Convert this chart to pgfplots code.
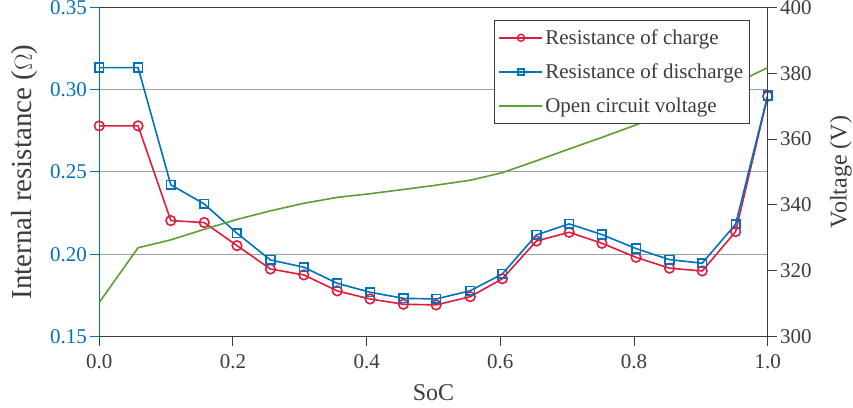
\documentclass[border=0pt]{standalone}
\usepackage{fontspec}
\setmainfont{Liberation Serif}
\usepackage{pgfplots}
\usepackage{pgfplotstable}
\pgfplotsset{compat=1.18}
\definecolor{cred}{RGB}{220,30,60}
\definecolor{cblue}{RGB}{0,114,189}
\definecolor{cgreen}{RGB}{90,160,50}
\definecolor{caxis}{RGB}{60,60,60}
\definecolor{cgrid}{RGB}{160,160,160}

\pgfplotstableread{
soc    rc      rd      ocv
0.000  0.2780  0.3134  310.4
0.058  0.2780  0.3134  327.0
0.107  0.2205  0.2422  329.4
0.157  0.2193  0.2306  332.6
0.206  0.2053  0.2128  335.6
0.256  0.1911  0.1966  338.2
0.306  0.1875  0.1922  340.5
0.356  0.1778  0.1824  342.3
0.405  0.1729  0.1770  343.4
0.455  0.1697  0.1733  344.7
0.504  0.1693  0.1729  346.0
0.555  0.1743  0.1779  347.5
0.603  0.1852  0.1881  349.8
0.654  0.2081  0.2118  353.4
0.703  0.2134  0.2185  357.0
0.752  0.2067  0.2120  360.5
0.803  0.1982  0.2035  364.3
0.853  0.1916  0.1968  368.5
0.902  0.1899  0.1946  372.5
0.952  0.2138  0.2183  377.0
1.000  0.2960  0.2965  381.7
}\data

\begin{document}
\begin{tikzpicture}
\useasboundingbox (0,0) rectangle (853bp,408bp);
\begin{axis}[
  at={(99.3bp,71.3bp)}, anchor=south west,
  width=668.4bp, height=329.4bp, scale only axis,
  xmin=0, xmax=1, ymin=0.15, ymax=0.35,
  axis y line*=left,
  xtick={0,0.2,0.4,0.6,0.8,1.0},
  ytick={0.15,0.20,0.25,0.30,0.35},
  tick align=outside, xtick pos=left,
  major tick length=9bp,
  ymajorgrids, grid style={cgrid, line width=1bp},
  axis line style={caxis, line width=1bp},
  y axis line style={cblue},
  every tick/.style={line width=1bp},
  xtick style={caxis}, ytick style={cblue},
  tick label style={font=\fontsize{21bp}{25bp}\selectfont},
  yticklabel style={cblue, /pgf/number format/.cd, fixed, fixed zerofill, precision=2, assume math mode=true},
  xticklabel style={caxis, yshift=-5bp, /pgf/number format/.cd, fixed, fixed zerofill, precision=1, assume math mode=true},
  xlabel={SoC},
  xlabel style={font=\fontsize{24bp}{28bp}\selectfont, color=caxis, at={(axis description cs:0.5,0)}, anchor=base, yshift=-63.3bp},
  ylabel={Internal resistance ($\Omega$)},
  ylabel style={font=\fontsize{29bp}{34bp}\selectfont, color=caxis, at={(axis description cs:0,0.5)}, anchor=base, yshift=67.5bp},
]
\addplot[cred, line width=1.6bp, mark=o, mark size=4.8bp, mark options={line width=1.6bp}] table[x=soc,y=rc] {\data};
\addplot[cblue, line width=1.6bp, mark=square, mark size=4.3bp, mark options={line width=1.6bp}] table[x=soc,y=rd] {\data};
\end{axis}
\begin{axis}[
  at={(99.3bp,71.3bp)}, anchor=south west,
  width=668.4bp, height=329.4bp, scale only axis,
  xmin=0, xmax=1, ymin=300, ymax=400,
  axis x line=none, axis y line*=right,
  ytick={300,320,340,360,380,400},
  tick align=outside,
  major tick length=9bp,
  axis line style={caxis, line width=1bp},
  every tick/.style={line width=1bp, caxis},
  tick label style={font=\fontsize{21bp}{25bp}\selectfont, caxis},
  yticklabel style={/pgf/number format/assume math mode=true},
  ylabel={Voltage (V)},
  ylabel style={font=\fontsize{24bp}{28bp}\selectfont, color=caxis, at={(axis description cs:1,0.5)}, anchor=base, yshift=-79bp},
  legend style={at={(rel axis cs:0.973,0.961)}, anchor=north east, draw=caxis, line width=1bp, fill=white,
    font=\fontsize{21bp}{24bp}\selectfont, text=caxis, row sep=14bp, inner xsep=4bp, inner ysep=7bp,
    nodes={inner sep=2bp}},
  legend cell align=left,
  legend image code/.code={\draw[mark repeat=2,mark phase=2,#1] plot coordinates {(0bp,0bp) (21.5bp,0bp) (43bp,0bp)};},
]
\addlegendimage{cred, line width=1.6bp, mark=o, mark size=3.5bp, mark options={line width=1.4bp}}
\addlegendentry{Resistance of charge}
\addlegendimage{cblue, line width=1.6bp, mark=square, mark size=3bp, mark options={line width=1.4bp}}
\addlegendentry{Resistance of discharge}
\addplot[cgreen, line width=1.6bp] table[x=soc,y=ocv] {\data};
\addlegendentry{Open circuit voltage}
\end{axis}
\end{tikzpicture}
\end{document}
